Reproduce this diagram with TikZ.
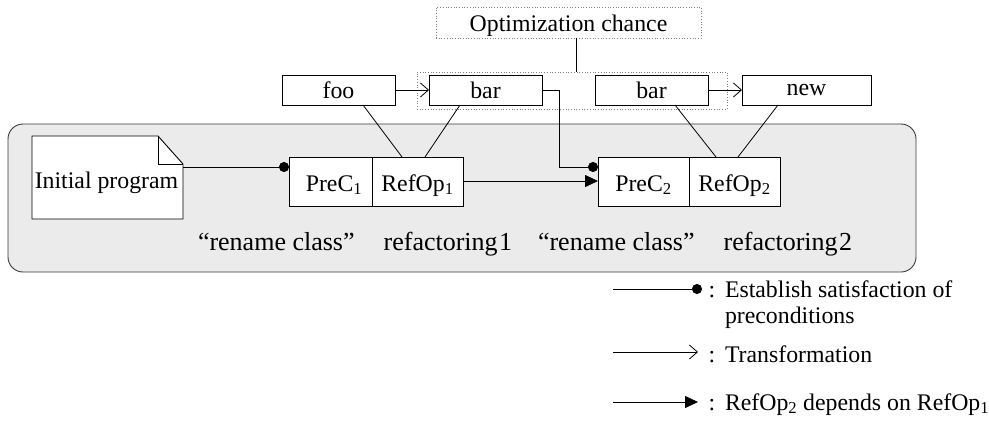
\documentclass[tikz,border=0pt]{standalone}
\usepackage{fontspec}
\setmainfont{Liberation Serif}
\usetikzlibrary{arrows.meta}
\definecolor{panelgray}{HTML}{EBEBEB}
\definecolor{panelline}{HTML}{3A3A3A}
\begin{document}
\begin{tikzpicture}[x=1pt,y=-1pt,
  font=\fontsize{23.8}{28}\selectfont,
  every node/.style={inner sep=0pt,outer sep=0pt},
  namebox/.style={draw,line width=0.9pt,fill=white,minimum height=30pt,anchor=north west},
  cellbox/.style={draw,line width=0.9pt,fill=white,minimum height=49pt,anchor=north west},
  dotbox/.style={draw=gray,dotted,line width=0.7pt,anchor=north west},
  conn/.style={line width=0.8pt},
  transf/.style={conn,-{Straight Barb[length=8pt,width=14pt,line width=0.8pt]}},
  depend/.style={conn,-{Triangle[length=13pt,width=12pt]}},
  establish/.style={conn,-{Circle[length=10pt,width=10pt]}},
  lbl/.style={anchor=base west},
  steplabel/.style={anchor=base west,font=\fontsize{26}{30}\selectfont}
]
\useasboundingbox (0,0) rectangle (989,423);

% grey panel holding the refactoring steps
\draw[panelline,fill=panelgray,line width=0.9pt,rounded corners=15pt] (8,124) rectangle (916,272);

% top row: names before and after each transformation
\node[dotbox,minimum width=265pt,minimum height=31pt] (opt) at (436,7) {};
\node[anchor=base] at (568.5,31) {Optimization chance};
\node[dotbox,minimum width=310pt,minimum height=37pt] (grp) at (417,72) {};
\node[namebox,minimum width=113pt] (foo)  at (282,75) {foo};
\node[namebox,minimum width=113pt] (bar1) at (429,75) {bar};
\node[namebox,minimum width=113pt] (bar2) at (595,75) {bar};
\node[namebox,minimum width=129pt] (new)  at (742,75) {new};

% initial program (document with folded corner)
\draw[line width=0.9pt,fill=white] (32,136) -- (158,136) -- (183,164) -- (183,219) -- (32,219) -- cycle;
\draw[line width=0.9pt] (158,136) -- (158,164) -- (183,164);
\coordinate (docout) at (183,167);
\node[anchor=base] (doc) at (106.5,188) {Initial program};

% refactoring steps
\node[cellbox,minimum width=83pt] (pre1) at (289,157) {};
\node[cellbox,minimum width=91pt] (ref1) at (372,157) {};
\node[cellbox,minimum width=91pt] (pre2) at (598,157) {};
\node[cellbox,minimum width=91pt] (ref2) at (689,157) {};
\node[anchor=base] at (334,191) {PreC\textsubscript{1}};
\node[anchor=base] at (417.5,191) {RefOp\textsubscript{1}};
\node[anchor=base] at (643.5,191) {PreC\textsubscript{2}};
\node[anchor=base] at (734.5,191) {RefOp\textsubscript{2}};

\node[steplabel] (lab1) at (198,250) {“rename class”\hspace{29pt}refactoring\hspace{1.5pt}1};
\node[steplabel] (lab2) at (538,250) {“rename class”\hspace{29pt}refactoring\hspace{1.5pt}2};

% connectors
\draw[conn] (opt.south -| 576,0) -- (grp.north -| 576,0);
\draw[transf] (foo.east) -- (bar1.west);
\draw[transf] (bar2.east) -- (new.west);
\draw[conn] (foo.south -| 363,0) -- (ref1.north -| 402,0);
\draw[conn] (bar1.south -| 460,0) -- (ref1.north -| 425,0);
\draw[conn] (bar2.south -| 675,0) -- (ref2.north -| 716,0);
\draw[conn] (new.south -| 778,0) -- (ref2.north -| 738,0);
\draw[establish] (docout) -- (pre1.west |- 0,167);
\draw[establish] (bar1.east) -- (559,90) -- (559,167) -- (pre2.west |- 0,167);
\draw[depend] (ref1.east |- 0,181) -- (pre2.west |- 0,181);

% legend
\coordinate (k1a) at (613,289); \coordinate (k1b) at (702,289);
\coordinate (k2a) at (613,352); \coordinate (k2b) at (698,352);
\coordinate (k3a) at (613,402); \coordinate (k3b) at (698,402);
\draw[establish] (k1a) -- (k1b);
\draw[transf] (k2a) -- (k2b);
\draw[depend] (k3a) -- (k3b);
\node[anchor=base] (c1) at (712,297) {:};
\node[anchor=base] (c2) at (712,362) {:};
\node[anchor=base] (c3) at (712,410) {:};
\node[lbl] (t1) at (725,297) {Establish satisfaction of};
\node[lbl] (t1b) at (725,323) {preconditions};
\node[lbl] (t2) at (725,362) {Transformation};
\node[lbl] (t3) at (725,410) {RefOp\textsubscript{2} depends on RefOp\textsubscript{1}};
\end{tikzpicture}
\end{document}
